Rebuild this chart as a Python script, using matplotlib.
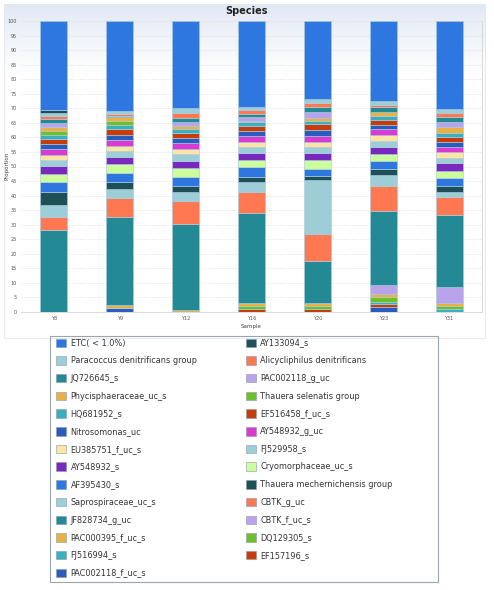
import numpy as np
import matplotlib
matplotlib.use("Agg")
import matplotlib.pyplot as plt
from matplotlib.patches import Patch, Rectangle

W, H = 494, 590

samples = ["Y8", "Y9", "Y12", "Y16", "Y20", "Y23", "Y31"]

# proportion (%) of each species per sample
pac002118_f_uc_s = [0, 1.3, 0, 0, 0, 1.6, 0]
ef157196_s = [0, 0, 0, 1.2, 1.0, 1.0, 0]
fj516994_s = [0, 0, 0, 0, 0, 0.9, 1.0]
dq129305_s = [0, 0, 0, 0.9, 1.1, 1.5, 1.1]
pac000395_f_uc_s = [0, 1.1, 0.8, 1.1, 1.1, 1.2, 1.1]
cbtk_f_uc_s = [0, 0, 0, 0, 0, 3.1, 5.5]
jf828734_g_uc = [28.2, 30.3, 29.4, 30.8, 14.4, 25.5, 24.7]
cbtk_g_uc = [4.3, 6.4, 7.8, 7.4, 9.3, 8.5, 6.0]
saprospiraceae_uc_s = [4.4, 3.1, 3.4, 3.4, 18.5, 3.8, 2.0]
thauera_mech = [4.3, 2.5, 1.9, 1.7, 1.3, 2.0, 1.9]
af395430_s = [3.6, 3.2, 3.2, 3.2, 2.6, 2.9, 2.6]
cryomorphaceae_uc_s = [2.6, 3.0, 3.0, 2.5, 2.9, 2.3, 2.4]
ay548932_s = [2.8, 2.5, 2.5, 2.6, 2.3, 2.5, 2.8]
fj529958_s = [2.0, 1.9, 2.3, 1.8, 2.3, 2.1, 1.9]
eu385751_f_uc_s = [1.9, 1.9, 1.6, 1.9, 1.7, 1.9, 1.9]
ay548932_g_uc = [1.8, 1.9, 2.3, 2.1, 2.1, 2.0, 1.9]
nitrosomonas_uc = [1.8, 1.6, 1.5, 1.7, 1.9, 1.5, 1.7]
ef516458_f_uc_s = [1.6, 2.1, 1.7, 1.6, 2.0, 1.7, 1.5]
hq681952_s = [1.5, 1.3, 1.4, 1.3, 1.1, 1.4, 1.4]
thauera_selenatis = [1.5, 1.5, 0.2, 0, 0, 0, 0]
phycisphaeraceae_uc_s = [1.2, 1.4, 0.9, 0.6, 1.1, 1.3, 2.1]
pac002118_g_uc = [1.3, 0, 1.5, 1.1, 2.0, 0.2, 1.9]
jq726645_s = [1.4, 0.2, 1.4, 1.1, 1.6, 1.4, 1.5]
alicycliphilus = [1.2, 0.8, 1.5, 1.4, 1.4, 0.9, 1.4]
paracoccus = [1.0, 1.0, 1.9, 0.9, 1.4, 1.4, 1.5]
ay133094_s = [1.0, 0, 0, 0, 0, 0, 0]
etc_small = [30.6, 31.0, 29.8, 29.7, 26.9, 27.4, 30.2]

# stacking order, bottom of the bar first
stack = [
    ("PAC002118_f_uc_s", pac002118_f_uc_s),
    ("EF157196_s", ef157196_s),
    ("FJ516994_s", fj516994_s),
    ("DQ129305_s", dq129305_s),
    ("PAC000395_f_uc_s", pac000395_f_uc_s),
    ("CBTK_f_uc_s", cbtk_f_uc_s),
    ("JF828734_g_uc", jf828734_g_uc),
    ("CBTK_g_uc", cbtk_g_uc),
    ("Saprospiraceae_uc_s", saprospiraceae_uc_s),
    ("Thauera mechernichensis group", thauera_mech),
    ("AF395430_s", af395430_s),
    ("Cryomorphaceae_uc_s", cryomorphaceae_uc_s),
    ("AY548932_s", ay548932_s),
    ("FJ529958_s", fj529958_s),
    ("EU385751_f_uc_s", eu385751_f_uc_s),
    ("AY548932_g_uc", ay548932_g_uc),
    ("Nitrosomonas_uc", nitrosomonas_uc),
    ("EF516458_f_uc_s", ef516458_f_uc_s),
    ("HQ681952_s", hq681952_s),
    ("Thauera selenatis group", thauera_selenatis),
    ("Phycisphaeraceae_uc_s", phycisphaeraceae_uc_s),
    ("PAC002118_g_uc", pac002118_g_uc),
    ("JQ726645_s", jq726645_s),
    ("Alicycliphilus denitrificans", alicycliphilus),
    ("Paracoccus denitrificans group", paracoccus),
    ("AY133094_s", ay133094_s),
    ("ETC( < 1.0%)", etc_small),
]

# colour cycle, applied from the top of the stack downwards
palette = ["#2e76e0", "#1f5058", "#9dcdd6", "#ff7851", "#228995", "#b9a3ea",
           "#e9b043", "#6cc12b", "#3aafbf", "#c63c0b", "#2a5cbf", "#d93bd2",
           "#ffe4a6", "#9dcdd6", "#7a29bf", "#ccff9b"]
n = len(stack)
colors = {name: palette[(n - 1 - i) % len(palette)] for i, (name, _) in enumerate(stack)}

fig = plt.figure(figsize=(W / 100, H / 100), dpi=100)

# light gradient at the top of the chart panel
bg = fig.add_axes([4 / W, 1 - 75 / H, 481 / W, 71 / H])
grad = np.linspace(0, 1, 100).reshape(-1, 1)
top = np.array([0.886, 0.910, 0.957])
img = top + (1 - top) * grad[:, :, None]
bg.imshow(img, aspect="auto", extent=[0, 1, 0, 1], origin="upper")
bg.axis("off")

fig.patches.append(Rectangle((4 / W, 1 - 338 / H), 481 / W, 334 / H, transform=fig.transFigure,
                             fill=False, edgecolor="#e2e6ec", linewidth=0.6))

ax = fig.add_axes([21 / W, 1 - 312 / H, 461 / W, 291 / H])
ax.set_facecolor("none")
x = np.arange(len(samples))
bottom = np.zeros(len(samples))
for name, vals in stack:
    vals = np.array(vals, dtype=float)
    ax.bar(x, vals, 0.41, bottom=bottom, color=colors[name],
           edgecolor="#a9cbdc", linewidth=0.45, zorder=3)
    bottom += vals

ax.set_xlim(-0.5, len(samples) - 0.5)
ax.set_ylim(0, 100)
ax.set_yticks(np.arange(0, 101, 5))
ax.set_xticks(x)
ax.set_xticklabels(samples)
ax.tick_params(axis="both", length=0, labelsize=3.5, labelcolor="#555555", pad=3)
ax.yaxis.grid(True, linestyle=(0, (2, 2)), color="#dcdcdc", linewidth=0.5, zorder=0)
for s in ax.spines.values():
    s.set_color("#d4d4d4")
    s.set_linewidth(0.6)
ax.spines["left"].set_visible(False)
ax.spines["top"].set_visible(False)
ax.set_xlabel("Sample", fontsize=4, color="#444444", labelpad=2)
fig.text(7.5 / W, 1 - 166 / H, "Proportion", rotation=90, ha="center", va="center",
         fontsize=4, color="#444444")

fig.text(246 / W, 1 - 11 / H, "Species", ha="center", va="center",
         fontsize=7, fontweight="bold", color="#222222",
         family=["Liberation Sans Narrow", "DejaVu Sans"])

# legend: two columns, top of the stack first
order = [name for name, _ in stack][::-1]
left_col = order[0::2]
right_col = order[1::2]
lkw = dict(frameon=False, fontsize=5.9, handlelength=1.22, handleheight=1.22,
           handletextpad=0.57, labelspacing=1.06, borderpad=0, borderaxespad=0,
           loc="upper left")
for names, xpx in ((left_col, 56), (right_col, 245.7)):
    handles = [Patch(facecolor=colors[nm], edgecolor="#8a9aa6", linewidth=0.4, label=nm)
               for nm in names]
    leg = fig.legend(handles=handles, bbox_to_anchor=(xpx / W, 1 - 338.5 / H), **lkw)
    for t in leg.get_texts():
        t.set_color("#333333")

fig.patches.append(Rectangle((50 / W, 1 - 582.3 / H), 388 / W, 246.6 / H, transform=fig.transFigure,
                             fill=False, edgecolor="#9aa4ad", linewidth=0.8))

fig.savefig("out.png", dpi=100)
